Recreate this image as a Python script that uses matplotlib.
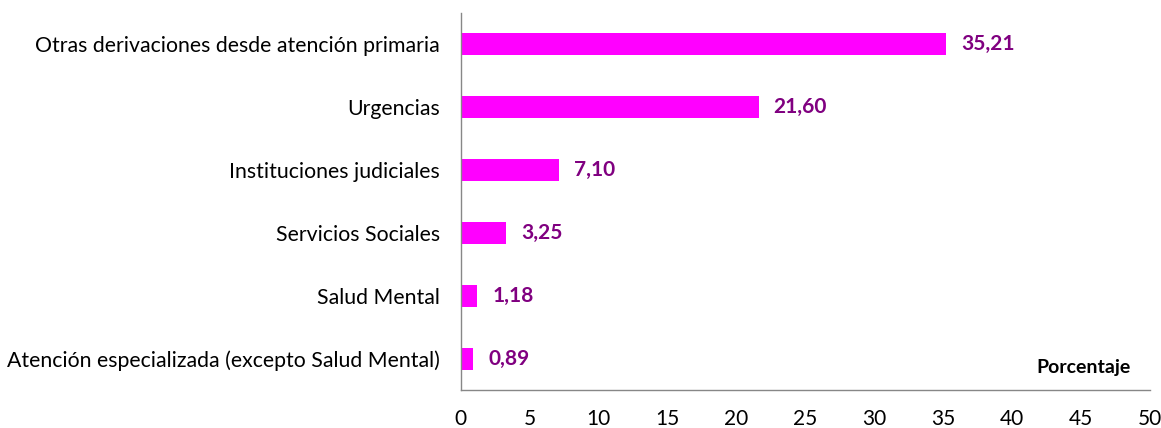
import matplotlib
matplotlib.use("Agg")
import matplotlib.pyplot as plt

categories = [
    "Otras derivaciones desde atención primaria",
    "Urgencias",
    "Instituciones judiciales",
    "Servicios Sociales",
    "Salud Mental",
    "Atención especializada (excepto Salud Mental)",
]
values = [35.21, 21.60, 7.10, 3.25, 1.18, 0.89]
value_labels = ["35,21", "21,60", "7,10", "3,25", "1,18", "0,89"]
xticks = [0, 5, 10, 15, 20, 25, 30, 35, 40, 45, 50]

plt.rcParams['font.family'] = ['Lato', 'DejaVu Sans']

fig = plt.figure(figsize=(11.61, 4.28), dpi=100)
ax = fig.add_axes([0.397, 0.0888, 0.5935, 0.8808])

y = list(range(len(categories)))
ax.barh(y, values, height=0.35, color="#FF00FF")
ax.set_ylim(len(categories) - 0.5, -0.5)
ax.set_xlim(0, 50)
ax.set_yticks(y)
ax.set_yticklabels(categories, fontsize=15.3)
ax.set_xticks(xticks)
ax.set_xticklabels([str(t) for t in xticks], fontsize=15)
ax.tick_params(axis='both', length=0)
ax.tick_params(axis='x', pad=14)
ax.tick_params(axis='y', pad=15)

for yi, v, lab in zip(y, values, value_labels):
    ax.text(v + 1.1, yi, lab, va='center', ha='left', fontsize=15,
            fontweight='bold', color="#800080")

ax.text(0.972, 0.06, "Porcentaje", transform=ax.transAxes, ha='right',
        va='center', fontsize=14, fontweight='bold', color='black')

for s in ['top', 'right']:
    ax.spines[s].set_visible(False)
for s in ['left', 'bottom']:
    ax.spines[s].set_color('#878787')
    ax.spines[s].set_linewidth(1.0)

fig.savefig("out.png", dpi=100)
